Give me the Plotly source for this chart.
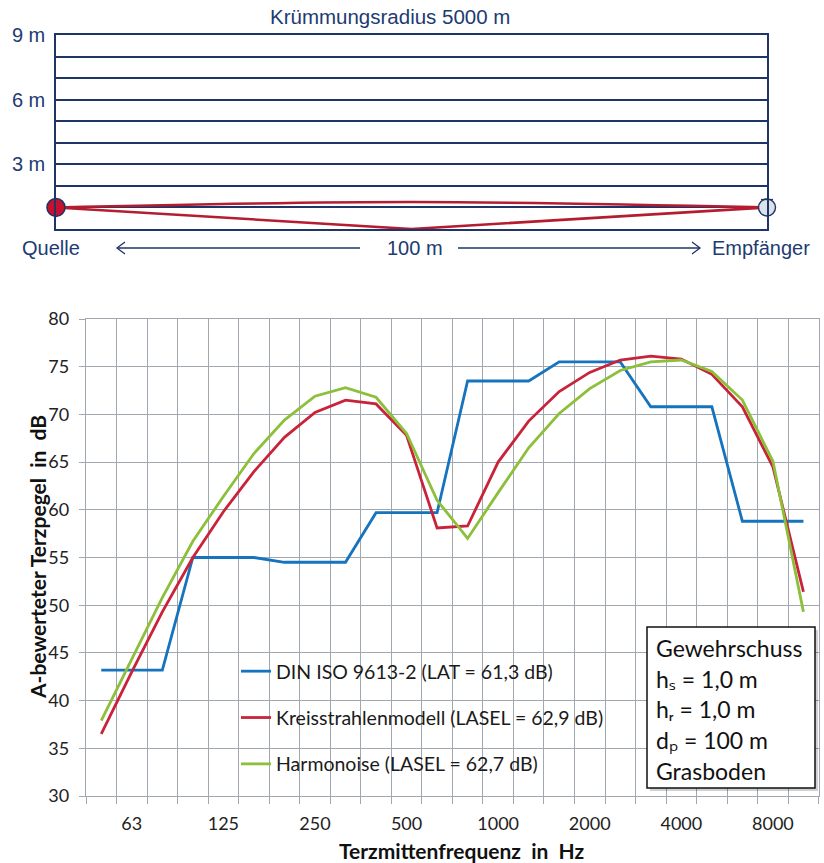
import plotly.graph_objects as go

# ---------------- data ----------------
freqs = ["50", "63", "80", "100", "125", "160", "200", "250", "315", "400", "500", "630",
         "800", "1000", "1250", "1600", "2000", "2500", "3150", "4000", "5000", "6300",
         "8000", "10000"]
shown_labels = ["63", "125", "250", "500", "1000", "2000", "4000", "8000"]

din_iso = [43.2, 43.2, 43.2, 55.0, 55.0, 55.0, 54.5, 54.5, 54.5, 59.7, 59.7, 59.7,
           73.5, 73.5, 73.5, 75.5, 75.5, 75.5, 70.8, 70.8, 70.8, 58.8, 58.8, 58.8]
kreisstrahl = [36.5, 43.0, 49.3, 55.0, 59.8, 64.0, 67.6, 70.2, 71.5, 71.1, 67.8, 58.1,
               58.3, 65.0, 69.3, 72.4, 74.4, 75.7, 76.1, 75.8, 74.2, 70.8, 64.5, 51.4]
harmonoise = [37.9, 44.4, 50.8, 56.7, 61.4, 65.9, 69.4, 71.9, 72.8, 71.8, 68.0, 61.0,
              57.0, 61.8, 66.5, 70.1, 72.7, 74.6, 75.5, 75.7, 74.5, 71.5, 65.1, 49.3]
series_names = ["DIN ISO 9613-2 (LAT = 61,3 dB)",
                "Kreisstrahlenmodell (LASEL = 62,9 dB)",
                "Harmonoise (LASEL = 62,7 dB)"]

info_lines = ["Gewehrschuss", "h\u209b = 1,0 m", "h\u1d63 = 1,0 m",
              "d\u209a = 100 m", "Grasboden"]

# top schematic (metres)
distance_m = 100
source_x, source_h = [0], [1.0]
receiver_x, receiver_h = [100], [1.0]
reflect_x, reflect_y = [0, 50, 100], [1.0, 0.0, 1.0]
arc_x, arc_y = [0, 50, 100], [1.0, 1.25, 1.0]
height_ticks = [3, 6, 9]
height_labels = ["3 m", "6 m", "9 m"]

# ---------------- styling ----------------
W, H = 824, 863
def fx(px):
    return px / W
def fy(py):
    return 1 - py / H

NAVY = "#1F3467"
NAVY_TXT = "#213B72"
GRID = "#A0A7AE"
C_BLUE = "#1673BD"
C_RED = "#C8233A"
C_GREEN = "#8CBF3A"
RAY = "#B41D30"
TOPFONT = "Liberation Sans, Arial, sans-serif"
CHFONT = "Lato, Open Sans, DejaVu Sans, sans-serif"

fig = go.Figure()

colors = [C_BLUE, C_RED, C_GREEN]
for i, (vals, name) in enumerate(zip([din_iso, kreisstrahl, harmonoise], series_names)):
    fig.add_trace(go.Scatter(
        x=freqs, y=vals, mode="lines", name=name,
        line=dict(color=colors[i], width=2.8),
        legendgroup=f"g{i}", xaxis="x", yaxis="y"))

# empty trace that only activates the label axis (x3)
fig.add_trace(go.Scatter(x=[], y=[], mode="lines", showlegend=False, hoverinfo="skip",
                         xaxis="x3", yaxis="y"))

# top schematic traces
fig.add_trace(go.Scatter(x=reflect_x, y=reflect_y, mode="lines", showlegend=False,
                         line=dict(color=RAY, width=2.6), xaxis="x2", yaxis="y2",
                         hoverinfo="skip"))
fig.add_trace(go.Scatter(x=arc_x, y=arc_y, mode="lines", showlegend=False,
                         line=dict(color=RAY, width=2.6, shape="spline"),
                         xaxis="x2", yaxis="y2", hoverinfo="skip"))
fig.add_trace(go.Scatter(x=source_x, y=source_h, mode="markers", showlegend=False,
                         marker=dict(size=18, color="#C8102E", line=dict(color=NAVY, width=1.6)),
                         xaxis="x2", yaxis="y2", cliponaxis=False, hoverinfo="skip"))
fig.add_trace(go.Scatter(x=receiver_x, y=receiver_h, mode="markers", showlegend=False,
                         marker=dict(size=17, color="#DCE2EC", line=dict(color=NAVY, width=1.4)),
                         xaxis="x2", yaxis="y2", cliponaxis=False, hoverinfo="skip"))

shapes = []
ay = fy(248)
shapes.append(dict(type="line", xref="paper", yref="paper", x0=fx(117), x1=fx(360), y0=ay, y1=ay,
                   line=dict(color=NAVY, width=1.3)))
shapes.append(dict(type="path", xref="paper", yref="paper",
                   path=f"M {fx(125)},{fy(242)} L {fx(117)},{ay} L {fx(125)},{fy(254)}",
                   line=dict(color=NAVY, width=1.3)))
shapes.append(dict(type="line", xref="paper", yref="paper", x0=fx(458), x1=fx(700), y0=ay, y1=ay,
                   line=dict(color=NAVY, width=1.3)))
shapes.append(dict(type="path", xref="paper", yref="paper",
                   path=f"M {fx(692)},{fy(242)} L {fx(700)},{ay} L {fx(692)},{fy(254)}",
                   line=dict(color=NAVY, width=1.3)))
shapes.append(dict(type="line", xref="paper", yref="paper", x0=fx(761), x1=fx(773),
                   y0=fy(199.5), y1=fy(199.5), line=dict(color=NAVY, width=1.2)))
shapes.append(dict(type="rect", xref="paper", yref="paper", x0=fx(650), x1=fx(818),
                   y0=fy(791), y1=fy(630), line=dict(width=0), fillcolor="rgba(0,0,0,0.18)",
                   layer="above"))
shapes.append(dict(type="rect", xref="paper", yref="paper", x0=fx(647), x1=fx(815),
                   y0=fy(788), y1=fy(627), line=dict(color="#111111", width=1.5),
                   fillcolor="white", layer="above"))

annotations = []
annotations.append(dict(text="Krümmungsradius 5000 m", x=fx(390), y=fy(17), xref="paper",
                        yref="paper", showarrow=False, xanchor="center", yanchor="middle",
                        font=dict(family=TOPFONT, size=20.5, color=NAVY_TXT)))
for txt, cx in [("Quelle", 51), ("100 m", 415), ("Empfänger", 761)]:
    annotations.append(dict(text=txt, x=fx(cx), y=fy(248), xref="paper", yref="paper",
                            showarrow=False, xanchor="center", yanchor="middle",
                            font=dict(family=TOPFONT, size=20, color=NAVY_TXT)))
line_y = [648, 679, 709, 740, 771]
for txt, py in zip(info_lines, line_y):
    annotations.append(dict(text=txt, x=fx(654), y=fy(py), xref="paper", yref="paper",
                            showarrow=False, xanchor="left", yanchor="middle",
                            font=dict(family=CHFONT, size=23, color="#111111")))
annotations.append(dict(text="A-bewerteter Terzpegel  in  dB", x=fx(37), y=fy(557),
                        xref="paper", yref="paper", showarrow=False, textangle=-90,
                        xanchor="center", yanchor="middle",
                        font=dict(family=CHFONT, size=21, color="#111111", weight="bold")))
annotations.append(dict(text="Terzmittenfrequenz  in  Hz", x=fx(462), y=fy(850),
                        xref="paper", yref="paper", showarrow=False,
                        xanchor="center", yanchor="middle",
                        font=dict(family=CHFONT, size=21, color="#111111", weight="bold")))

xdom = [fx(86), fx(818.7)]
label_pos = [freqs.index(f) for f in shown_labels]
fig.update_layout(
    width=W, height=H,
    margin=dict(l=0, r=0, t=0, b=0, pad=0, autoexpand=False),
    paper_bgcolor="white", plot_bgcolor="white",
    showlegend=True,
    legend=dict(x=fx(236), y=fy(652), xanchor="left", yanchor="top",
                bgcolor="rgba(0,0,0,0)", borderwidth=0,
                font=dict(family=CHFONT, size=19.5, color="#1a1a1a"),
                tracegroupgap=18, itemwidth=30, traceorder="grouped"),
    # grid / tick-mark axis (category boundaries)
    xaxis=dict(domain=xdom, anchor="y", type="category",
               categoryorder="array", categoryarray=freqs, range=[-0.5, len(freqs) - 0.5],
               tickson="boundaries", ticks="outside", ticklen=7, tickcolor=GRID,
               showticklabels=False,
               showgrid=True, gridcolor=GRID, gridwidth=1.2,
               showline=True, linecolor=GRID, linewidth=1.3, mirror=True,
               zeroline=False, fixedrange=True),
    # label axis: only every third band is labelled
    xaxis3=dict(domain=xdom, anchor="y", overlaying="x", side="bottom", type="linear",
                range=[-0.5, len(freqs) - 0.5],
                tickmode="array", tickvals=label_pos, ticktext=shown_labels,
                tickangle=0, ticks="", showgrid=False, showline=False,
                tickfont=dict(family=CHFONT, size=18, color="#222222"),
                ticklabelstandoff=15, zeroline=False, fixedrange=True),
    yaxis=dict(domain=[fy(796), fy(319)], anchor="x", range=[30, 80], dtick=5,
               ticks="outside", ticklen=6, tickcolor=GRID,
               showgrid=True, gridcolor=GRID, gridwidth=1.2,
               showline=True, linecolor=GRID, linewidth=1.3, mirror=True,
               tickfont=dict(family=CHFONT, size=18, color="#222222"),
               ticklabelstandoff=6, zeroline=False, fixedrange=True),
    xaxis2=dict(domain=[fx(56), fx(767)], anchor="y2", range=[0, distance_m],
                showgrid=False, showticklabels=False, ticks="",
                showline=True, linecolor=NAVY, linewidth=1.5, mirror=True,
                zeroline=False, fixedrange=True),
    yaxis2=dict(domain=[fy(229), fy(35)], anchor="x2", range=[0, 9],
                tickmode="array", tickvals=height_ticks, ticktext=height_labels,
                showgrid=True, gridcolor=NAVY, gridwidth=1.5,
                minor=dict(dtick=1, tick0=0, showgrid=True, gridcolor=NAVY, gridwidth=1.5, ticks=""),
                showline=True, linecolor=NAVY, linewidth=1.5, mirror=True, ticks="",
                ticklabelstandoff=5,
                tickfont=dict(family=TOPFONT, size=20, color=NAVY_TXT),
                zeroline=False, fixedrange=True),
    shapes=shapes,
    annotations=annotations,
)

fig.write_html("out.html", config={"displayModeBar": False},
               post_script="document.body.style.margin='0px';document.body.style.overflow='hidden';")
